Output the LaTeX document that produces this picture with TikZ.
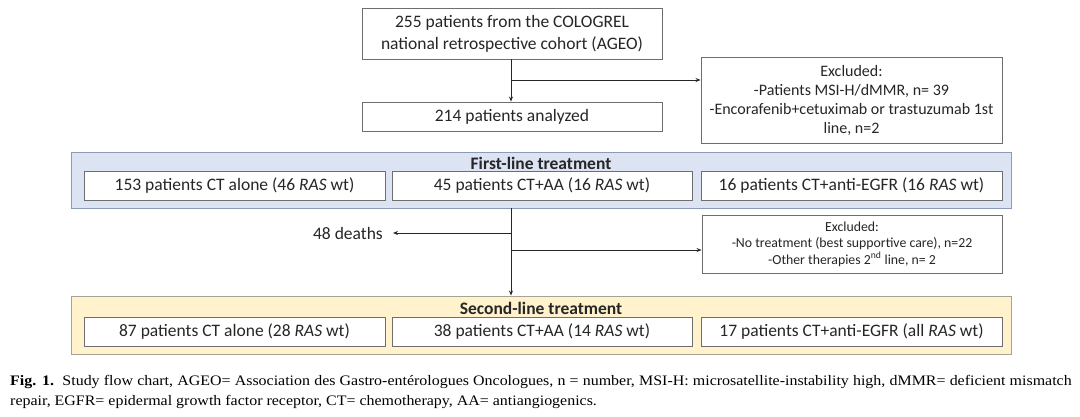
\documentclass[tikz,border=0pt]{standalone}
\usepackage{fontspec}
\setmainfont{Carlito}
\newfontfamily\capfont{Liberation Serif}
\usetikzlibrary{arrows.meta}
\definecolor{boxline}{HTML}{6E6E6E}
\definecolor{bluefill}{HTML}{DCE3F2}
\definecolor{blueline}{HTML}{8D9AB3}
\definecolor{yelfill}{HTML}{FFF2CC}
\definecolor{yelline}{HTML}{A8A294}
\definecolor{txt}{HTML}{262626}
\tikzset{
  x=1pt, y=-1pt,
  box/.style={draw=boxline, line width=0.9pt, fill=white, inner sep=0pt, align=center, text=txt, font=\fontsize{17.5}{22}\selectfont},
  panelblue/.style={draw=blueline, line width=0.9pt, fill=bluefill, inner sep=0pt},
  panelyel/.style={draw=yelline, line width=0.9pt, fill=yelfill, inner sep=0pt},
  ptitle/.style={font=\bfseries\fontsize{17.5}{20}\selectfont, text=txt, inner sep=0pt},
  arr/.style={draw=black!85, line width=0.8pt, -{Stealth[length=5pt,width=4pt]}},
  captext/.style={anchor=west, inner sep=0pt, text=black, font=\capfont\fontsize{14.5}{18}\selectfont}
}
\begin{document}
\begin{tikzpicture}
\useasboundingbox (0,0) rectangle (1080,416);
\fill[white] (0,0) rectangle (1080,416);

% top part
\node[box, minimum width=300pt, minimum height=51pt] (top) at (512,33.5)
  {255 patients from the COLOGREL\\national retrospective cohort (AGEO)};
\node[box, minimum width=300pt, minimum height=29pt] (anal) at (512,116.5)
  {214 patients analyzed};
\node[box, minimum width=301pt, minimum height=86pt, font=\fontsize{16}{19}\selectfont] (exc1) at (851.5,100)
  {Excluded:\\-Patients MSI-H/dMMR, n= 39\\-Encorafenib+cetuximab or trastuzumab 1st\\line, n=2};
\coordinate (t0) at (511,59);
\coordinate (b1) at (511,80);
\draw[arr] (t0) -- (t0 |- anal.north);
\draw[arr] (b1) -- (exc1.west |- b1);

% first-line panel
\node[panelblue, minimum width=940pt, minimum height=56pt] (p1) at (541,180) {};
\node[ptitle] (p1t) at (541,163) {First-line treatment};
\node[box, minimum width=301pt, minimum height=29pt] (a1) at (234.5,185.5) {153 patients CT alone (46 \textit{RAS} wt)};
\node[box, minimum width=300pt, minimum height=29pt] (b1n) at (542,185.5) {45 patients CT+AA (16 \textit{RAS} wt)};
\node[box, minimum width=301pt, minimum height=29pt] (c1) at (851.5,185.5) {16 patients CT+anti-EGFR (16 \textit{RAS} wt)};

% middle
\node[anchor=east, inner sep=0pt, text=txt, font=\fontsize{17.5}{20}\selectfont] (death) at (383,233) {48 deaths};
\node[box, minimum width=300pt, minimum height=58pt, font=\fontsize{13.8}{16.5}\selectfont] (exc2) at (852,244)
  {Excluded:\\-No treatment (best supportive care), n=22\\-Other therapies 2\textsuperscript{nd} line, n= 2};
\coordinate (m0) at (511,208);
\coordinate (md) at (511,233);
\coordinate (me) at (511,250);
\node[panelyel, minimum width=940pt, minimum height=58pt] (p2) at (541,325) {};
\draw[arr] (m0) -- (m0 |- p2.north);
\draw[arr] (md) -- ([xshift=10pt]death.east);
\draw[arr] (me) -- (exc2.west |- me);

% second-line panel
\node[ptitle] (p2t) at (541,308) {Second-line treatment};
\node[box, minimum width=301pt, minimum height=29pt] (a2) at (234.5,331.5) {87 patients CT alone (28 \textit{RAS} wt)};
\node[box, minimum width=300pt, minimum height=29pt] (b2) at (542,331.5) {38 patients CT+AA (14 \textit{RAS} wt)};
\node[box, minimum width=301pt, minimum height=29pt] (c2) at (851.5,331.5) {17 patients CT+anti-EGFR (all \textit{RAS} wt)};

% caption
\node[captext] (cap1) at (10,382) {\scalebox{1.1}[1]{\makebox[965pt][s]{\textbf{Fig. 1.}\ \ Study flow chart, AGEO= Association des Gastro-entérologues Oncologues, n = number, MSI-H: microsatellite-instability high, dMMR= deficient mismatch}}};
\node[captext] (cap2) at (10,402) {\scalebox{1.1}[1]{repair, EGFR= epidermal growth factor receptor, CT= chemotherapy, AA= antiangiogenics.}};
\end{tikzpicture}
\end{document}
